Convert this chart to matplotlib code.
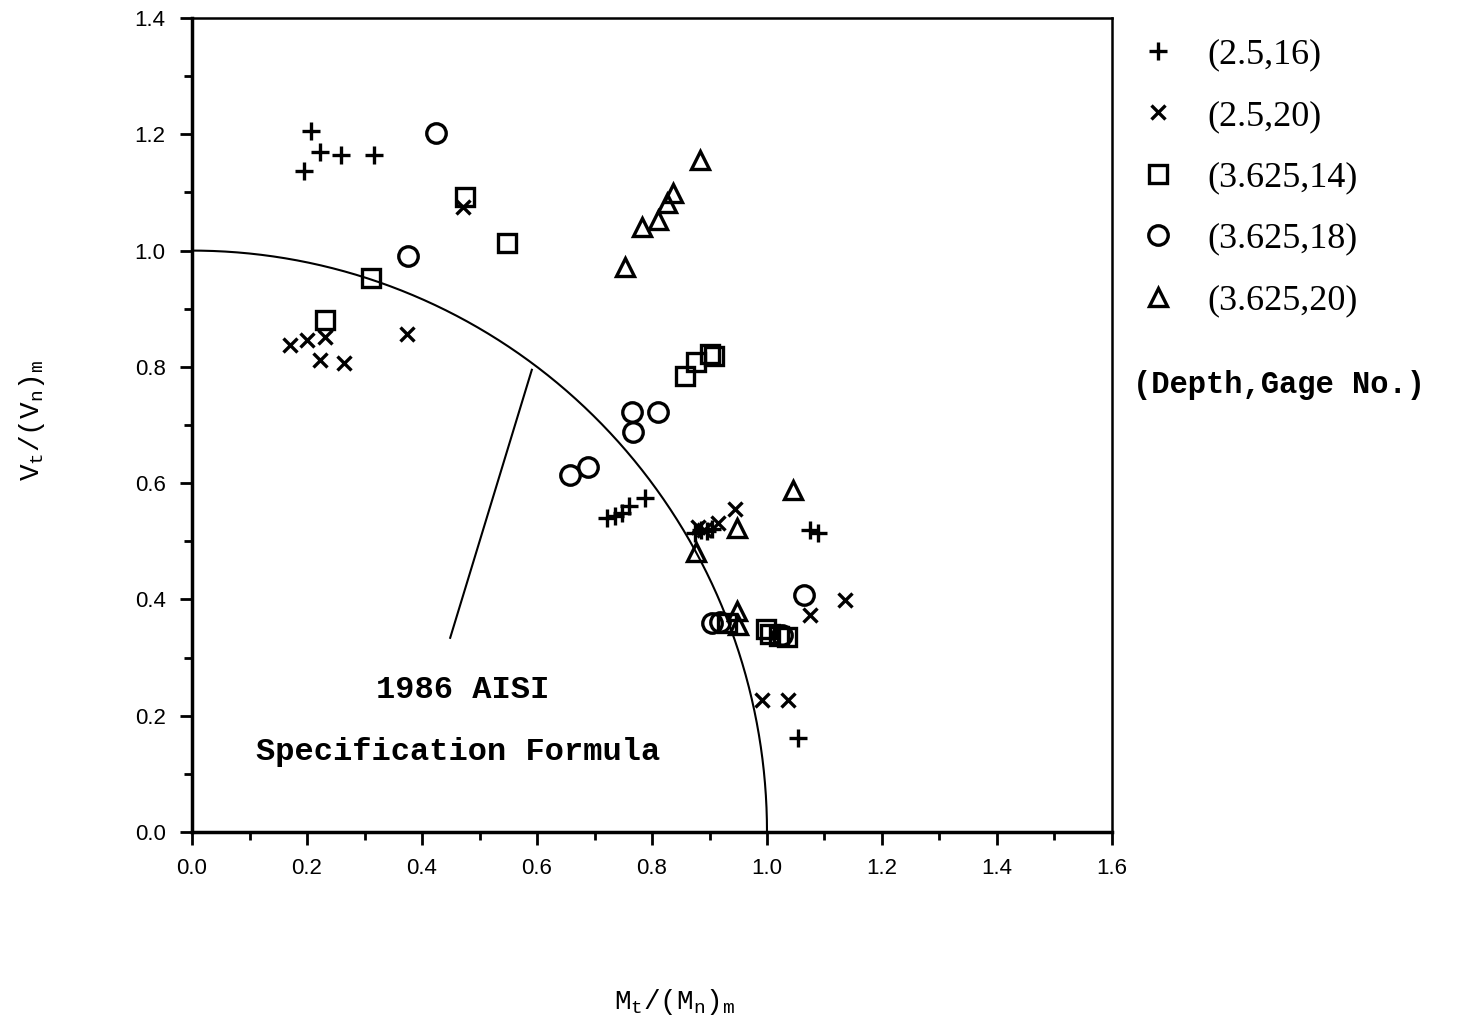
import numpy as np
import matplotlib
matplotlib.use("Agg")
import matplotlib.pyplot as plt
from matplotlib.ticker import MultipleLocator, FormatStrFormatter

plt.rcParams['mathtext.fontset'] = 'custom'
plt.rcParams['mathtext.tt'] = 'Liberation Mono'
plt.rcParams['mathtext.rm'] = 'Liberation Mono'

# (2.5,16)
plus_x = [0.207, 0.223, 0.259, 0.317, 0.195, 0.722, 0.735, 0.748, 0.760, 0.788,
          0.875, 0.885, 0.895, 0.905, 1.075, 1.089, 1.054]
plus_y = [1.206, 1.170, 1.164, 1.164, 1.137, 0.540, 0.543, 0.549, 0.560, 0.575,
          0.515, 0.520, 0.518, 0.522, 0.519, 0.514, 0.162]

# (2.5,20)
cross_x = [0.170, 0.200, 0.231, 0.223, 0.264, 0.374, 0.471, 0.880, 0.890, 0.915,
           0.944, 1.136, 1.075, 0.991, 1.037]
cross_y = [0.838, 0.846, 0.852, 0.812, 0.806, 0.857, 1.075, 0.525, 0.520, 0.531,
           0.556, 0.399, 0.373, 0.227, 0.227]

# (3.625,14)
square_x = [0.475, 0.548, 0.311, 0.231, 0.857, 0.877, 0.900, 0.908, 0.930,
            0.998, 1.005, 1.020, 1.035]
square_y = [1.092, 1.013, 0.953, 0.880, 0.784, 0.808, 0.822, 0.818, 0.360,
            0.350, 0.340, 0.337, 0.335]

# (3.625,18)
circle_x = [0.424, 0.376, 0.765, 0.767, 0.810, 0.689, 0.657, 1.064, 0.905, 0.918, 1.026]
circle_y = [1.202, 0.991, 0.722, 0.688, 0.722, 0.628, 0.614, 0.408, 0.360, 0.362, 0.339]

# (3.625,20)
tri_x = [0.883, 0.837, 0.826, 0.810, 0.783, 0.753, 1.045, 0.948, 0.877, 0.948, 0.950]
tri_y = [1.156, 1.099, 1.082, 1.053, 1.041, 0.972, 0.588, 0.523, 0.482, 0.380, 0.356]

labels = ['(2.5,16)', '(2.5,20)', '(3.625,14)', '(3.625,18)', '(3.625,20)']

fig = plt.figure(figsize=(14.57, 10.25), dpi=100)
ax = fig.add_axes([0.1318, 0.1883, 0.6314, 0.7941])

# interaction formula (M/Mn)^2 + (V/Vn)^2 = 1
theta = np.linspace(0, np.pi / 2, 300)
ax.plot(np.cos(theta), np.sin(theta), color='black', lw=1.5)
ax.plot([0.591, 0.449], [0.795, 0.334], color='black', lw=1.5)

mk = dict(color='black', linestyle='none', mew=2.4)
ax.plot(plus_x, plus_y, marker='+', ms=13, label=labels[0], **mk)
ax.plot(cross_x, cross_y, marker='x', ms=10, label=labels[1], **mk)
ax.plot(square_x, square_y, marker='s', ms=13, mfc='none', label=labels[2], **mk)
ax.plot(circle_x, circle_y, marker='o', ms=14, mfc='none', label=labels[3], **mk)
ax.plot(tri_x, tri_y, marker='^', ms=13, mfc='none', label=labels[4], **mk)

ax.text(0.471, 0.244, '1986 AISI', ha='center', va='center',
        family='Liberation Mono', fontsize=23, weight='bold')
ax.text(0.463, 0.138, 'Specification Formula', ha='center', va='center',
        family='Liberation Mono', fontsize=23, weight='bold')

ax.set_xlim(0, 1.6)
ax.set_ylim(0, 1.4)
ax.xaxis.set_major_locator(MultipleLocator(0.2))
ax.xaxis.set_minor_locator(MultipleLocator(0.1))
ax.yaxis.set_major_locator(MultipleLocator(0.2))
ax.yaxis.set_minor_locator(MultipleLocator(0.1))
ax.xaxis.set_major_formatter(FormatStrFormatter('%.1f'))
ax.yaxis.set_major_formatter(FormatStrFormatter('%.1f'))
ax.tick_params(which='major', direction='out', length=9, width=2, labelsize=16, pad=10)
ax.tick_params(which='minor', direction='out', length=6, width=2)
for lab in ax.get_xticklabels() + ax.get_yticklabels():
    lab.set_family(['Liberation Sans Narrow', 'Liberation Sans'])

ax.spines['left'].set_linewidth(2.5)
ax.spines['bottom'].set_linewidth(2.5)
ax.spines['top'].set_linewidth(1.8)
ax.spines['right'].set_linewidth(1.8)

fig.text(0.463, 0.022, r'$\mathtt{M_t/(M_n)_m}$', fontsize=20, ha='center', va='center')
fig.text(0.022, 0.59, r'$\mathtt{V_t/(V_n)_m}$', fontsize=20, ha='center', va='center',
         rotation=90)

leg = ax.legend(loc='upper left', bbox_to_anchor=(1.015, 0.993), frameon=False,
                prop={'family': 'Liberation Serif', 'size': 26},
                labelspacing=0.78, handletextpad=0.85, handlelength=1.0,
                borderaxespad=0)
fig.text(0.7776, 0.624, '(Depth,Gage No.)', family='Liberation Mono',
         fontsize=22, weight='bold', ha='left', va='center')

fig.savefig('out.png', dpi=100)
